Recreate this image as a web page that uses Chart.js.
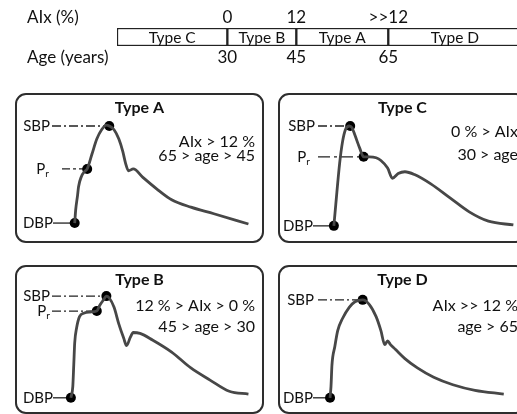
<!DOCTYPE html>
<html>
<head>
<meta charset="utf-8">
<script src="https://cdn.jsdelivr.net/npm/chart.js@4.4.1/dist/chart.umd.min.js"></script>
<style>
html, body { margin:0; padding:0; width:517px; height:414px; overflow:hidden; background:#fff; }
.box { position:absolute; }
.box::after { content:''; position:absolute; left:0; top:0; right:0; bottom:0;
  border:2px solid #2e2e2e; border-radius:11px; pointer-events:none; }
.box.strip::after { display:none; }
canvas { display:block; }
</style>
</head>
<body>
<div class="box strip" style="left:0;top:0;width:540px;height:70px"><canvas id="strip" width="540" height="70"></canvas></div>
<div class="box" style="left:15px;top:93px;width:249px;height:150px"><canvas id="pA" width="249" height="150"></canvas></div>
<div class="box" style="left:278px;top:93px;width:249px;height:150px"><canvas id="pC" width="249" height="150"></canvas></div>
<div class="box" style="left:15px;top:265px;width:249px;height:149px"><canvas id="pB" width="249" height="149"></canvas></div>
<div class="box" style="left:278px;top:265px;width:249px;height:149px"><canvas id="pD" width="249" height="149"></canvas></div>
<script>
/* ─── data – edit here ───────────────────────────────────────── */
// top strip: AIx (%) / age (years) ranges
const ageBounds = [30, 45, 65];
const aixLabels = ['0', '12', '>>12'];
const typeNames = ['Type C', 'Type B', 'Type A', 'Type D'];
const typeFrom  = [6, 30, 45, 65];
const typeTo    = [30, 45, 65, 94];

// pulse waveforms (time, pressure – arbitrary units)
const aTime  = [57,58,60,61,64,67,70,75,80,85,90,93,98,103,107,110,113,118,128,142,158,178,202,238];
const aPress = [16,30,46,55,66,71,74,90,106,116,121,120,116,106,93,80,72,74,65,53,41,33,26,15];
const aMarkT = [57, 70, 93];   // DBP, Pr, SBP
const aMarkP = [16, 74, 120];

const bTime  = [53,55,56,57,59,62,67,73,80,83,87,90,93,98,103,108,111,115,118,125,138,158,178,198,218,238];
const bPress = [12,24,47,71,87,99,103,104,105,111,117,121,119,109,91,76,68,77,82,81,74,61,44,31,19,16];
const bMarkT = [53, 80, 90];
const bMarkP = [12, 105, 121];

const cTime  = [53,55,59,62,65,69,72,75,80,84,90,97,102,109,114,120,127,137,154,174,194,214,240];
const cPress = [13,36,80,103,116,120,118,110,96,87,87,86,83,75,64,69,71,68,58,43,28,18,14];
const cMarkT = [53, 84, 70];
const cMarkP = [13, 87, 120];

const dTime  = [49,50,51,54,57,62,69,75,83,90,97,102,106,109,112,117,127,140,157,177,200,230];
const dPress = [12,24,47,67,84,97,109,115,117,112,99,84,69,73,69,64,54,44,34,26,20,16];
const dMarkT = [49, 83];       // DBP, SBP
const dMarkP = [12, 117];

/* ─── look ───────────────────────────────────────────────────── */
const FONT = 'Lato, "Open Sans", sans-serif';
const INK  = '#111';

/* ─── top strip ─────────────────────────────────────────────── */
const stripText = {
  id: 'stripText',
  afterDatasetsDraw(chart) {
    const c = chart.ctx;
    c.save();
    c.fillStyle = INK;
    c.textAlign = 'center';
    c.textBaseline = 'middle';
    c.font = '15.5px ' + FONT;
    chart.data.datasets.forEach((ds, i) => {
      const bar = chart.getDatasetMeta(i).data[0];
      c.fillText(ds.label, (bar.x + bar.base) / 2, bar.y + 1);
    });
    const top = chart.scales.x2, bot = chart.scales.x;
    c.textAlign = 'left';
    c.font = '17px ' + FONT;
    c.fillText('AIx (%)', 27, top.bottom - 10.2);
    c.fillText('Age (years)', 27, bot.top + 1 + 10.2);
    c.restore();
  }
};

const axisCommon = {
  type: 'linear', min: 6, max: 98,
  grid: { display: false, drawTicks: false },
  border: { display: false },
  afterBuildTicks: s => { s.ticks = ageBounds.map(v => ({ value: v })); }
};

new Chart(document.getElementById('strip'), {
  type: 'bar',
  data: {
    labels: ['range'],
    datasets: typeNames.map((n, i) => ({
      label: n,
      data: [[typeFrom[i], typeTo[i]]],
      backgroundColor: '#fff',
      borderColor: '#222',
      borderWidth: 1.5,
      borderSkipped: false,
      grouped: false,
      barPercentage: 1,
      categoryPercentage: 1
    }))
  },
  options: {
    indexAxis: 'y',
    responsive: false,
    animation: false,
    layout: { padding: { left: 117, top: 7.6, bottom: 1.6, right: 0 } },
    scales: {
      x: { ...axisCommon, position: 'bottom',
           ticks: { padding: 1, color: INK, font: { family: FONT, size: 17 }, autoSkip: false, maxRotation: 0,
                    callback: v => String(v) } },
      x2: { ...axisCommon, position: 'top',
            ticks: { padding: 0, color: INK, font: { family: FONT, size: 17 }, autoSkip: false, maxRotation: 0,
                     callback: (v, i) => aixLabels[i] } },
      y: { display: false }
    },
    plugins: { legend: { display: false }, tooltip: { enabled: false } }
  },
  plugins: [stripText]
});

/* ─── waveform panels ───────────────────────────────────────── */
const panelText = {
  id: 'panelText',
  beforeDatasetsDraw(chart, args, o) {
    const c = chart.ctx, xs = chart.scales.x, ys = chart.scales.y;
    const pts = chart.data.datasets[1].data;
    c.save();
    c.strokeStyle = '#222';
    c.lineWidth = 1.3;
    o.marks.forEach(m => {
      const px = xs.getPixelForValue(pts[m.i].x), py = ys.getPixelForValue(pts[m.i].y);
      c.setLineDash(m.dash || []);
      c.beginPath();
      c.moveTo(m.from, py);
      c.lineTo(px - 4, py);
      c.stroke();
    });
    c.restore();
  },
  afterDatasetsDraw(chart, args, o) {
    const c = chart.ctx, ys = chart.scales.y;
    const pts = chart.data.datasets[1].data;
    const W = chart.width;
    c.save();
    c.fillStyle = INK;
    c.textBaseline = 'middle';
    c.textAlign = 'center';
    c.font = 'bold 16px ' + FONT;
    c.fillText(o.title, W / 2, 15);
    c.textAlign = 'right';
    c.font = '16px ' + FONT;
    o.notes.forEach((t, k) => c.fillText(t, W - 9, o.noteY[k]));
    o.marks.forEach(m => {
      const py = ys.getPixelForValue(pts[m.i].y);
      c.font = '15px ' + FONT;
      if (m.name === 'Pr') {
        const wP = c.measureText('P').width;
        c.font = '10px ' + FONT;
        const wr = c.measureText('r').width;
        c.textAlign = 'left';
        c.fillText('r', m.right - wr, py + 5);
        c.font = '15px ' + FONT;
        c.fillText('P', m.right - wr - wP, py);
        c.textAlign = 'right';
      } else {
        c.fillText(m.name, m.right, py);
      }
    });
    c.restore();
  }
};

const DASH = [9, 3, 2, 3];

function makePanel(id, time, press, markT, markP, opts) {
  const cv = document.getElementById(id);
  new Chart(cv, {
    type: 'scatter',
    data: {
      datasets: [{
        data: time.map((t, i) => ({ x: t, y: press[i] })),
        showLine: true,
        borderColor: '#474747',
        borderWidth: 2.8,
        pointRadius: 0,
        cubicInterpolationMode: 'monotone',
        clip: false
      }, {
        data: markT.map((t, i) => ({ x: t, y: markP[i] })),
        pointRadius: 5,
        pointBackgroundColor: '#000',
        pointBorderWidth: 0,
        clip: false
      }]
    },
    options: {
      responsive: false,
      animation: false,
      layout: { padding: 0 },
      scales: {
        x: { type: 'linear', display: false, min: 0, max: cv.width },
        y: { type: 'linear', display: false, min: 0, max: cv.height }
      },
      plugins: { legend: { display: false }, tooltip: { enabled: false }, panelText: opts }
    },
    plugins: [panelText]
  });
}

makePanel('pA', aTime, aPress, aMarkT, aMarkP, {
  title: 'Type A', notes: ['AIx > 12 %', '65 > age > 45'], noteY: [49, 63],
  marks: [{ name: 'SBP', i: 2, right: 35, from: 37, dash: DASH },
          { name: 'Pr',  i: 1, right: 34, from: 47, dash: [8, 3, 3, 3] },
          { name: 'DBP', i: 0, right: 38, from: 38 }]
});
makePanel('pC', cTime, cPress, cMarkT, cMarkP, {
  title: 'Type C', notes: ['0 % > AIx', '30 > age'], noteY: [39, 62],
  marks: [{ name: 'SBP', i: 2, right: 37, from: 40, dash: DASH },
          { name: 'Pr',  i: 1, right: 32, from: 40, dash: [12, 4, 3, 4] },
          { name: 'DBP', i: 0, right: 35, from: 35 }]
});
makePanel('pB', bTime, bPress, bMarkT, bMarkP, {
  title: 'Type B', notes: ['12 % > AIx > 0 %', '45 > age > 30'], noteY: [41, 62],
  marks: [{ name: 'SBP', i: 2, right: 35, from: 37, dash: DASH },
          { name: 'Pr',  i: 1, right: 35, from: 37, dash: DASH },
          { name: 'DBP', i: 0, right: 38, from: 38 }]
});
makePanel('pD', dTime, dPress, dMarkT, dMarkP, {
  title: 'Type D', notes: ['AIx >> 12 %', 'age > 65'], noteY: [41, 62],
  marks: [{ name: 'SBP', i: 1, right: 36, from: 40, dash: DASH },
          { name: 'DBP', i: 0, right: 35, from: 35 }]
});
</script>
</body>
</html>
